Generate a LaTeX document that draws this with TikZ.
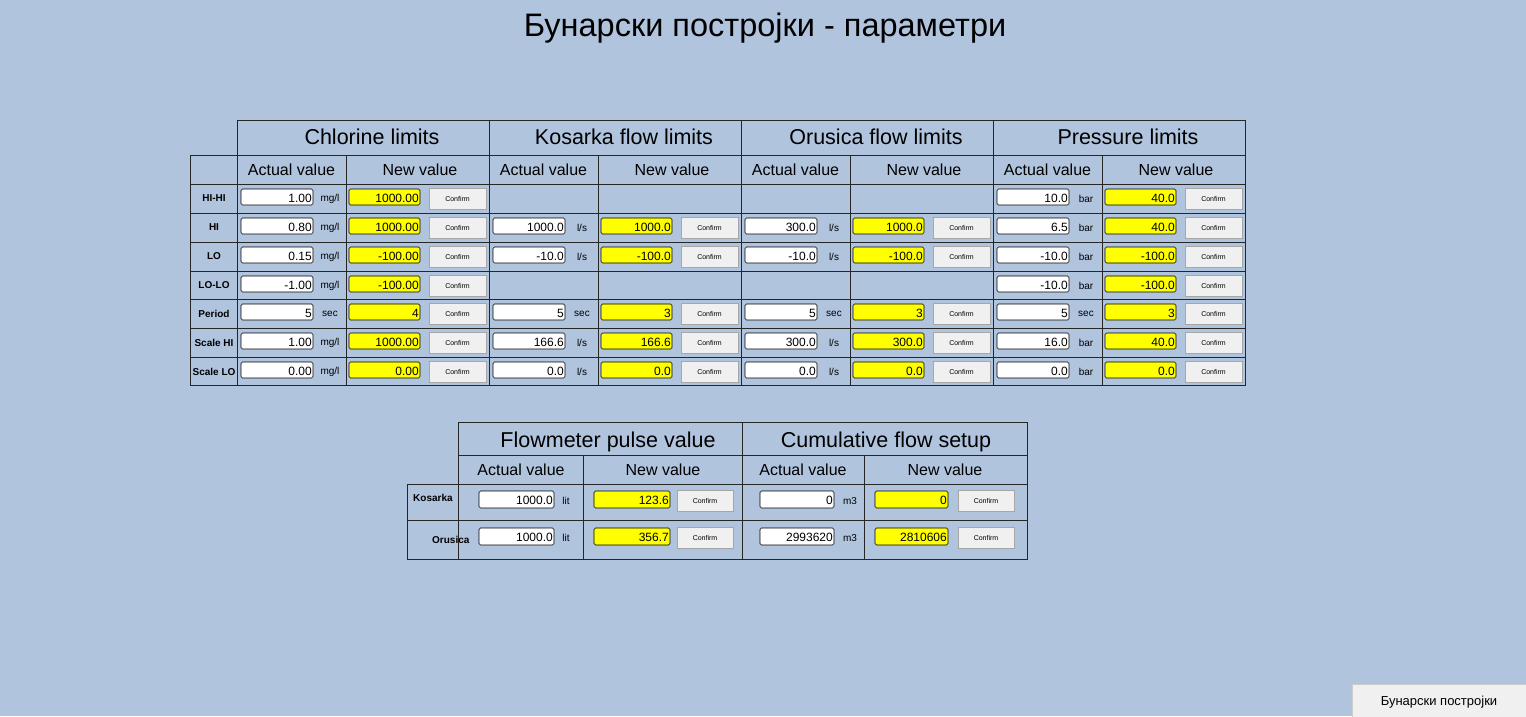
\documentclass[tikz,border=0pt]{standalone}
\usepackage{fontspec}
\setmainfont{Liberation Sans}
\definecolor{bg}{HTML}{B0C4DE}
\definecolor{btn}{HTML}{F0F0F0}
\definecolor{yel}{HTML}{FFFF00}
\tikzset{
 grid/.style={draw=black!85, line width=0.9pt},
 actbox/.style={draw=black, fill=white, rounded corners=1.5pt, line width=0.6pt},
 newbox/.style={draw=black, fill=yel, rounded corners=1.5pt, line width=0.6pt},
 btnbox/.style={draw=black!35, fill=btn, line width=0.5pt},
 val/.style={anchor=east, inner sep=1pt, font=\fontsize{12}{12}\selectfont},
 unit/.style={font=\fontsize{10}{11}\selectfont, inner sep=0pt},
 conf/.style={font=\fontsize{7}{8}\selectfont, inner sep=0pt},
 rowlab/.style={font=\bfseries\fontsize{10}{11}\selectfont, inner sep=0pt},
 hd/.style={font=\fontsize{21.5}{23}\selectfont, inner sep=0pt},
 sub/.style={font=\fontsize{16}{17}\selectfont, inner sep=0pt},
}
\newcommand{\pcell}[6]{%
 \draw[actbox] (#1+4,#2+5) rectangle (#1+76,#2+21);
 \node[val] (#6a) at (#1+76,#2+14) {#3};
 \node[unit] (#6u) at (#1+93,#2+15) {#4};
 \draw[newbox] (#1+112,#2+5) rectangle (#1+183,#2+21);
 \node[val] (#6n) at (#1+183,#2+14) {#5};
 \draw[btnbox] (#1+192,#2+4) rectangle (#1+249,#2+25);
 \node[conf] (#6c) at (#1+220.5,#2+14.5) {Confirm};
}
\newcommand{\bcell}[9]{%
 \draw[actbox] (#1,#7) rectangle (#2,#7+17);
 \node[val] at (#2,#7+9.5) {#8};
 \draw[newbox] (#4,#7) rectangle (#5,#7+17);
 \node[val] at (#5,#7+9.5) {#9};
 \draw[btnbox] (#6,#7-1) rectangle (#6+56,#7+20);
 \node[conf] at (#6+28,#7+9.5) {Confirm};
}
\begin{document}
\begin{tikzpicture}[x=1pt,y=-1pt]
\fill[bg] (0,0) rectangle (1526,716);
\useasboundingbox (0,0) rectangle (1526,716);
\node[font=\fontsize{32.5}{34}\selectfont, inner sep=0pt] (title) at (765,28) {Бунарски постројки - параметри};
\draw[grid] (237,120) rectangle (1245,385);
\draw[grid] (190,155) rectangle (237,385);
\draw[grid] (237,155) -- (1245,155);
\foreach \x in {489,741,993} \draw[grid] (\x,120) -- (\x,385);
\foreach \x in {346,598,850,1102} \draw[grid] (\x,155) -- (\x,385);
\foreach \y in {184,213,242,271,299,328,357} \draw[grid] (190,\y) -- (1245,\y);
\node[hd] (h1) at (372,137) {Chlorine limits};
\node[hd] (h2) at (624,137) {Kosarka flow limits};
\node[hd] (h3) at (876,137) {Orusica flow limits};
\node[hd] (h4) at (1128,137) {Pressure limits};
\foreach \x/\n in {237/a,489/b,741/c,993/d}{
 \node[sub] (s\n1) at (\x+54.5,170) {Actual value};
 \node[sub] (s\n2) at (\x+183,170) {New value};
}
\foreach \y/\t/\n in {184/HI-HI/r1,213/HI/r2,242/LO/r3,271/LO-LO/r4,299/Period/r5,328/Scale HI/r6,357/Scale LO/r7}
 \node[rowlab] (\n) at (214,\y+14.5) {\t};
\pcell{237}{184}{1.00}{mg/l}{1000.00}{c1}
\pcell{237}{213}{0.80}{mg/l}{1000.00}{c2}
\pcell{237}{242}{0.15}{mg/l}{-100.00}{c3}
\pcell{237}{271}{-1.00}{mg/l}{-100.00}{c4}
\pcell{237}{299}{5}{sec}{4}{c5}
\pcell{237}{328}{1.00}{mg/l}{1000.00}{c6}
\pcell{237}{357}{0.00}{mg/l}{0.00}{c7}
\pcell{489}{213}{1000.0}{l/s}{1000.0}{k2}
\pcell{489}{242}{-10.0}{l/s}{-100.0}{k3}
\pcell{489}{299}{5}{sec}{3}{k5}
\pcell{489}{328}{166.6}{l/s}{166.6}{k6}
\pcell{489}{357}{0.0}{l/s}{0.0}{k7}
\pcell{741}{213}{300.0}{l/s}{1000.0}{o2}
\pcell{741}{242}{-10.0}{l/s}{-100.0}{o3}
\pcell{741}{299}{5}{sec}{3}{o5}
\pcell{741}{328}{300.0}{l/s}{300.0}{o6}
\pcell{741}{357}{0.0}{l/s}{0.0}{o7}
\pcell{993}{184}{10.0}{bar}{40.0}{p1}
\pcell{993}{213}{6.5}{bar}{40.0}{p2}
\pcell{993}{242}{-10.0}{bar}{-100.0}{p3}
\pcell{993}{271}{-10.0}{bar}{-100.0}{p4}
\pcell{993}{299}{5}{sec}{3}{p5}
\pcell{993}{328}{16.0}{bar}{40.0}{p6}
\pcell{993}{357}{0.0}{bar}{0.0}{p7}
\draw[grid] (458,422) rectangle (1027,559);
\draw[grid] (407,484) rectangle (458,559);
\draw[grid] (458,455) -- (1027,455);
\draw[grid] (407,484) -- (1027,484);
\draw[grid] (407,520) -- (1027,520);
\draw[grid] (742,422) -- (742,559);
\foreach \x in {583,864} \draw[grid] (\x,455) -- (\x,559);
\node[hd] (b1) at (608,442) {Flowmeter pulse value};
\node[hd] (b2) at (886,442) {Cumulative flow setup};
\node[sub] (bs1) at (521,470) {Actual value};
\node[sub] (bs2) at (663,470) {New value};
\node[sub] (bs3) at (803,470) {Actual value};
\node[sub] (bs4) at (945,470) {New value};
\node[rowlab, anchor=west] (bk) at (413,498) {Kosarka};
\node[rowlab, anchor=west] (bo) at (432,540) {Orusica};
\bcell{479}{554}{566}{594}{670}{677}{491}{1000.0}{123.6}
\bcell{479}{554}{566}{594}{670}{677}{528}{1000.0}{356.7}
\bcell{760}{834}{850}{875}{948}{958}{491}{0}{0}
\bcell{760}{834}{850}{875}{948}{958}{528}{2993620}{2810606}
\node[unit] (u1) at (566,501) {lit};
\node[unit] (u2) at (566,538) {lit};
\node[unit] (u3) at (850,501) {m3};
\node[unit] (u4) at (850,538) {m3};
\draw[fill=btn, draw=black!20] (1352,684) rectangle (1527,717);
\node[font=\fontsize{13}{14}\selectfont, inner sep=0pt] (nav) at (1439,702) {Бунарски постројки};
\end{tikzpicture}
\end{document}
